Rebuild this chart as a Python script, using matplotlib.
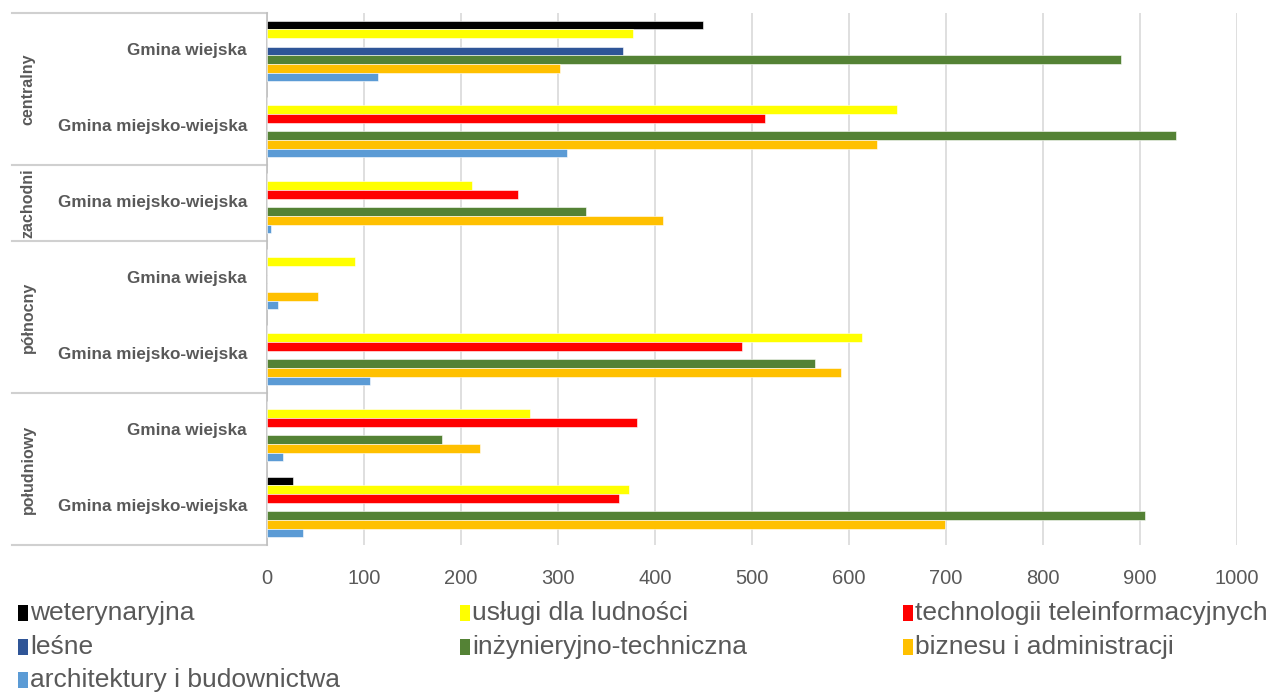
import matplotlib
matplotlib.use("Agg")
import matplotlib.pyplot as plt
from matplotlib.patches import Rectangle
from matplotlib.lines import Line2D
import matplotlib.transforms as mtransforms
import numpy as np

# ---------------- data ----------------
regions = ["centralny", "zachodni", "północny", "południowy"]
region_sizes = [2, 1, 2, 2]
categories = ["Gmina wiejska", "Gmina miejsko-wiejska",
              "Gmina miejsko-wiejska",
              "Gmina wiejska", "Gmina miejsko-wiejska",
              "Gmina wiejska", "Gmina miejsko-wiejska"]
series_names = ["weterynaryjna", "usługi dla ludności", "technologii teleinformacyjnych",
                "leśne", "inżynieryjno-techniczna", "biznesu i administracji",
                "architektury i budownictwa"]
weterynaryjna = [450, 0, 0, 0, 0, 0, 27]
uslugi = [378, 650, 211, 91, 614, 271, 373]
technologii = [0, 514, 259, 0, 490, 382, 363]
lesne = [367, 0, 0, 0, 0, 0, 0]
inzynieryjno = [881, 938, 329, 0, 565, 181, 906]
biznesu = [302, 629, 408, 53, 592, 220, 699]
architektury = [115, 309, 4, 11, 106, 16, 37]
xticks = [0, 100, 200, 300, 400, 500, 600, 700, 800, 900, 1000]

series_values = [weterynaryjna, uslugi, technologii, lesne, inzynieryjno, biznesu, architektury]
colors = ["#000000", "#FFFF00", "#FF0000", "#2F5597", "#548235", "#FFC000", "#5B9BD5"]

FONT = ["Liberation Sans", "DejaVu Sans"]
plt.rcParams["font.family"] = FONT
GRAY = "#595959"

W, H = 1283, 692
fig = plt.figure(figsize=(W / 100, H / 100), dpi=100)
ax = fig.add_axes([267 / W, (H - 545) / H, 969.5 / W, 532 / H])

n_series = len(series_values)
bh = 0.8 / n_series
y = np.arange(len(categories))
for j, (vals, c) in enumerate(zip(series_values, colors)):
    ax.barh(y + (j - (n_series - 1) / 2) * bh, vals, height=bh, color=c,
            edgecolor="white", linewidth=0.4, zorder=3)

ax.set_xlim(0, 1000)
ax.set_ylim(len(categories) - 0.5, -0.5)
ax.set_xticks(xticks)
ax.set_xticklabels([str(t) for t in xticks])
ax.tick_params(axis="x", length=0, pad=17, labelsize=14.5, labelcolor=GRAY)
ax.set_yticks([])
ax.grid(axis="x", color="#d9d9d9", linewidth=1.2, zorder=0)
for s in ["top", "right", "bottom"]:
    ax.spines[s].set_visible(False)
ax.spines["left"].set_color("#bfbfbf")
ax.spines["left"].set_linewidth(1.2)

# hierarchical category axis
trans = mtransforms.blended_transform_factory(fig.transFigure, ax.transData)
for i, cat in enumerate(categories):
    ax.text(247 / W, i, cat, transform=trans, ha="right", va="center",
            fontsize=12.3, fontweight="bold", color=GRAY, family=FONT)

start = 0
bounds = [-0.5]
for reg, n in zip(regions, region_sizes):
    center = start + (n - 1) / 2
    ax.text(28 / W, center, reg, transform=trans, ha="center", va="center",
            rotation=90, fontsize=11.5, fontweight="bold", color=GRAY, family=FONT)
    start += n
    bounds.append(start - 0.5)
for b in bounds:
    ax.add_line(Line2D([12 / W, 267 / W], [b, b], transform=trans, color="#d0d0d0",
                       linewidth=1.5, clip_on=False))

# legend (manual, row-major in 3 columns)
col_x = [18, 460, 903]
row_y = [613, 647, 680]
for k, (name, c) in enumerate(zip(series_names, colors)):
    r, cc = divmod(k, 3)
    x0 = col_x[cc]
    yc = row_y[r]
    fig.add_artist(Rectangle((x0 / W, 1 - (yc + 8) / H), 10 / W, 16 / H,
                             transform=fig.transFigure, facecolor=c, edgecolor="none"))
    fig.text((x0 + 12) / W, 1 - yc / H, name, ha="left", va="center",
             fontsize=19, color=GRAY, family=FONT)

fig.savefig("out.png", dpi=100)
